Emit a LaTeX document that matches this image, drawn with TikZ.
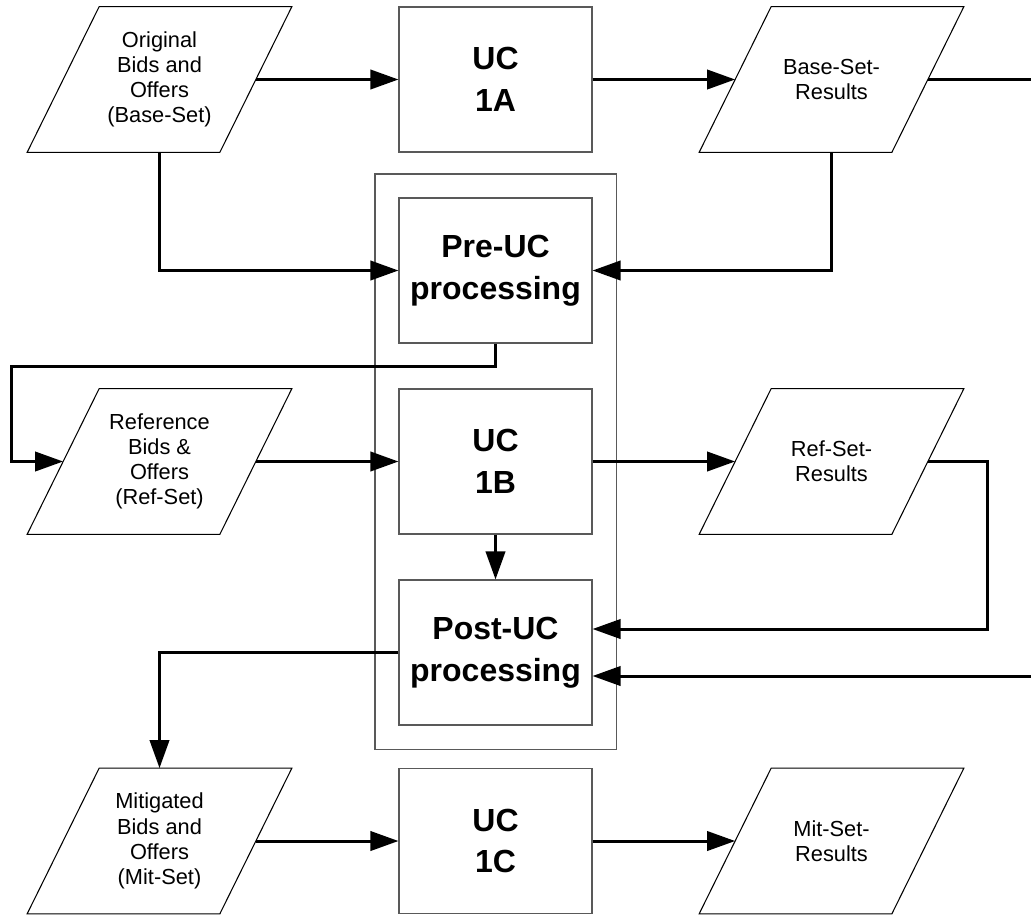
\documentclass[tikz,border=0pt]{standalone}
\usepackage{fontspec}
\setmainfont{Liberation Sans}
\usetikzlibrary{positioning, arrows.meta, fit}

\begin{document}
\begin{tikzpicture}[node distance=3.82cm and 6.72cm, on grid,
        ucbox/.style={draw=black!65, line width=0.6pt, minimum width=3.86cm, minimum height=2.9cm,
            align=center, font=\fontsize{18.2}{23.8}\selectfont\bfseries},
        dataset/.style={minimum width=3.84cm, minimum height=2.9cm, inner sep=0pt,
            align=center, font=\fontsize{12.4}{14.3}\selectfont},
        flow/.style={line width=1.7pt, -{Triangle[length=16pt, width=11pt]}}]

        \useasboundingbox (0,0) rectangle (20.62,-18.3);
        \clip (0,0) rectangle (20.62,-18.3);

        %% NODES
        \node[ucbox] (uc1a) at (9.91,-1.59) {UC\\1A};
        \node[ucbox] (preuc) [below=of uc1a] {Pre-UC\\processing};
        \node[ucbox] (uc1b) [below=of preuc] {UC\\1B};
        \node[ucbox] (postuc) [below=of uc1b] {Post-UC\\processing};
        \node[ucbox] (uc1c) [below=3.77cm of postuc] {UC\\1C};

        % data sets left and right
        \node[dataset] (orig) [left=of uc1a] {Original\\Bids and\\Offers\\(Base-Set)};
        \node[dataset] (baseres) [right=of uc1a] {Base-Set-\\Results};
        \node[dataset] (ref) [left=of uc1b] {Reference\\Bids \&\\Offers\\(Ref-Set)};
        \node[dataset] (refres) [right=of uc1b] {Ref-Set-\\Results};
        \node[dataset] (mit) [left=of uc1c] {Mitigated\\Bids and\\Offers\\(Mit-Set)};
        \node[dataset] (mitres) [right=of uc1c] {Mit-Set-\\Results};

        % slanted outline of the data sets
        \foreach \n in {orig, baseres, ref, refres, mit, mitres}
            \draw[line width=0.6pt] ([xshift=.72cm]\n.north west) -- ([xshift=.72cm]\n.north east)
                -- ([xshift=-.72cm]\n.south east) -- ([xshift=-.72cm]\n.south west) -- cycle;

        % frame round the UC 1B steps
        \node[draw=black!65, line width=0.6pt, inner sep=0.47cm, fit=(preuc)(postuc)] (frame) {};

        %% CONNECTORS
        \draw[flow] (orig) -- (uc1a);
        \draw[flow] (uc1a) -- (baseres);
        \draw[flow] (orig.south) |- (preuc.west);
        \draw[flow] (baseres.south) |- (preuc.east);

        \draw[flow] (preuc.south) -- ++(0,-0.46) -| ([xshift=-1.04cm]ref.west) -- (ref.west);
        \draw[flow] (ref) -- (uc1b);
        \draw[flow] (uc1b) -- (refres);
        \draw[flow] (uc1b) -- (postuc);
        \draw[flow] (refres.east) -- ++(1.19,0) |- ([yshift=.47cm]postuc.east);

        % Base-Set-Results runs out past the right edge
        \coordinate (outside) at (21.5,0);
        \draw[flow] (baseres.east) -- (baseres.east -| outside) |- ([yshift=-.47cm]postuc.east);

        \draw[flow] (postuc.west) -| (mit.north);
        \draw[flow] (mit) -- (uc1c);
        \draw[flow] (uc1c) -- (mitres);

    \end{tikzpicture}
\end{document}
